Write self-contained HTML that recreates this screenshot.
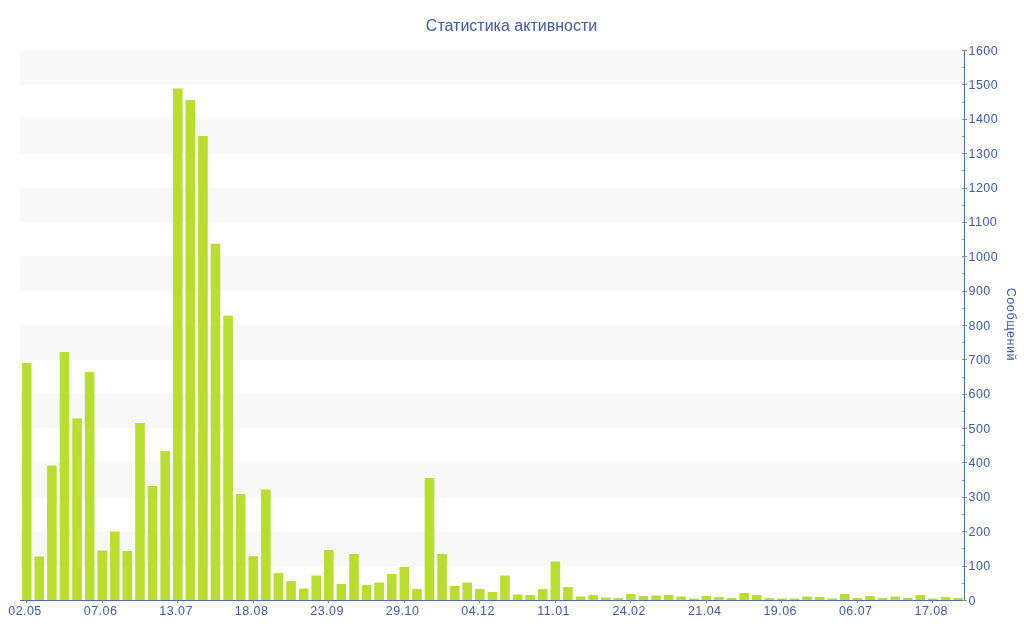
<!DOCTYPE html><html><head><meta charset="utf-8"><style>html,body{margin:0;padding:0;background:#fff;width:1024px;height:640px;overflow:hidden}svg{display:block;transform:translateZ(0);will-change:transform;font-family:"Liberation Sans",sans-serif}</style></head><body>
<svg width="1024" height="640" viewBox="0 0 1024 640">
<rect x="0" y="0" width="1024" height="640" fill="#fff"/>
<rect x="20" y="531.25" width="944" height="34.975" fill="#F8F8F8"/>
<rect x="20" y="462.50" width="944" height="34.975" fill="#F8F8F8"/>
<rect x="20" y="393.75" width="944" height="34.975" fill="#F8F8F8"/>
<rect x="20" y="325.00" width="944" height="34.975" fill="#F8F8F8"/>
<rect x="20" y="256.25" width="944" height="34.975" fill="#F8F8F8"/>
<rect x="20" y="187.50" width="944" height="34.975" fill="#F8F8F8"/>
<rect x="20" y="118.75" width="944" height="34.975" fill="#F8F8F8"/>
<rect x="20" y="50.00" width="944" height="34.975" fill="#F8F8F8"/>
<rect x="21.90" y="363.00" width="9.6" height="237.00" fill="#B9DE30"/>
<rect x="34.49" y="556.50" width="9.6" height="43.50" fill="#B9DE30"/>
<rect x="47.07" y="465.50" width="9.6" height="134.50" fill="#B9DE30"/>
<rect x="59.66" y="352.00" width="9.6" height="248.00" fill="#B9DE30"/>
<rect x="72.25" y="418.50" width="9.6" height="181.50" fill="#B9DE30"/>
<rect x="84.83" y="372.00" width="9.6" height="228.00" fill="#B9DE30"/>
<rect x="97.42" y="550.50" width="9.6" height="49.50" fill="#B9DE30"/>
<rect x="110.01" y="531.50" width="9.6" height="68.50" fill="#B9DE30"/>
<rect x="122.59" y="551.00" width="9.6" height="49.00" fill="#B9DE30"/>
<rect x="135.18" y="423.00" width="9.6" height="177.00" fill="#B9DE30"/>
<rect x="147.77" y="486.00" width="9.6" height="114.00" fill="#B9DE30"/>
<rect x="160.35" y="451.00" width="9.6" height="149.00" fill="#B9DE30"/>
<rect x="172.94" y="88.50" width="9.6" height="511.50" fill="#B9DE30"/>
<rect x="185.53" y="100.00" width="9.6" height="500.00" fill="#B9DE30"/>
<rect x="198.11" y="136.00" width="9.6" height="464.00" fill="#B9DE30"/>
<rect x="210.70" y="243.75" width="9.6" height="356.25" fill="#B9DE30"/>
<rect x="223.29" y="315.60" width="9.6" height="284.40" fill="#B9DE30"/>
<rect x="235.87" y="494.00" width="9.6" height="106.00" fill="#B9DE30"/>
<rect x="248.46" y="556.25" width="9.6" height="43.75" fill="#B9DE30"/>
<rect x="261.05" y="489.50" width="9.6" height="110.50" fill="#B9DE30"/>
<rect x="273.63" y="573.00" width="9.6" height="27.00" fill="#B9DE30"/>
<rect x="286.22" y="581.00" width="9.6" height="19.00" fill="#B9DE30"/>
<rect x="298.81" y="588.50" width="9.6" height="11.50" fill="#B9DE30"/>
<rect x="311.39" y="575.50" width="9.6" height="24.50" fill="#B9DE30"/>
<rect x="323.98" y="550.00" width="9.6" height="50.00" fill="#B9DE30"/>
<rect x="336.57" y="584.00" width="9.6" height="16.00" fill="#B9DE30"/>
<rect x="349.15" y="554.00" width="9.6" height="46.00" fill="#B9DE30"/>
<rect x="361.74" y="585.00" width="9.6" height="15.00" fill="#B9DE30"/>
<rect x="374.33" y="582.50" width="9.6" height="17.50" fill="#B9DE30"/>
<rect x="386.91" y="574.00" width="9.6" height="26.00" fill="#B9DE30"/>
<rect x="399.50" y="567.00" width="9.6" height="33.00" fill="#B9DE30"/>
<rect x="412.09" y="589.00" width="9.6" height="11.00" fill="#B9DE30"/>
<rect x="424.67" y="478.00" width="9.6" height="122.00" fill="#B9DE30"/>
<rect x="437.26" y="554.00" width="9.6" height="46.00" fill="#B9DE30"/>
<rect x="449.85" y="586.00" width="9.6" height="14.00" fill="#B9DE30"/>
<rect x="462.43" y="582.50" width="9.6" height="17.50" fill="#B9DE30"/>
<rect x="475.02" y="589.00" width="9.6" height="11.00" fill="#B9DE30"/>
<rect x="487.61" y="592.00" width="9.6" height="8.00" fill="#B9DE30"/>
<rect x="500.19" y="575.50" width="9.6" height="24.50" fill="#B9DE30"/>
<rect x="512.78" y="594.50" width="9.6" height="5.50" fill="#B9DE30"/>
<rect x="525.37" y="595.00" width="9.6" height="5.00" fill="#B9DE30"/>
<rect x="537.95" y="589.00" width="9.6" height="11.00" fill="#B9DE30"/>
<rect x="550.54" y="561.50" width="9.6" height="38.50" fill="#B9DE30"/>
<rect x="563.13" y="587.00" width="9.6" height="13.00" fill="#B9DE30"/>
<rect x="575.71" y="596.50" width="9.6" height="3.50" fill="#B9DE30"/>
<rect x="588.30" y="595.00" width="9.6" height="5.00" fill="#B9DE30"/>
<rect x="600.89" y="597.50" width="9.6" height="2.50" fill="#B9DE30"/>
<rect x="613.47" y="598.00" width="9.6" height="2.00" fill="#B9DE30"/>
<rect x="626.06" y="594.00" width="9.6" height="6.00" fill="#B9DE30"/>
<rect x="638.65" y="596.00" width="9.6" height="4.00" fill="#B9DE30"/>
<rect x="651.23" y="595.50" width="9.6" height="4.50" fill="#B9DE30"/>
<rect x="663.82" y="595.00" width="9.6" height="5.00" fill="#B9DE30"/>
<rect x="676.41" y="596.50" width="9.6" height="3.50" fill="#B9DE30"/>
<rect x="688.99" y="598.50" width="9.6" height="1.50" fill="#B9DE30"/>
<rect x="701.58" y="596.00" width="9.6" height="4.00" fill="#B9DE30"/>
<rect x="714.17" y="597.00" width="9.6" height="3.00" fill="#B9DE30"/>
<rect x="726.75" y="598.00" width="9.6" height="2.00" fill="#B9DE30"/>
<rect x="739.34" y="593.00" width="9.6" height="7.00" fill="#B9DE30"/>
<rect x="751.93" y="595.00" width="9.6" height="5.00" fill="#B9DE30"/>
<rect x="764.51" y="598.00" width="9.6" height="2.00" fill="#B9DE30"/>
<rect x="777.10" y="598.50" width="9.6" height="1.50" fill="#B9DE30"/>
<rect x="789.69" y="598.50" width="9.6" height="1.50" fill="#B9DE30"/>
<rect x="802.27" y="596.50" width="9.6" height="3.50" fill="#B9DE30"/>
<rect x="814.86" y="597.00" width="9.6" height="3.00" fill="#B9DE30"/>
<rect x="827.45" y="598.50" width="9.6" height="1.50" fill="#B9DE30"/>
<rect x="840.03" y="594.00" width="9.6" height="6.00" fill="#B9DE30"/>
<rect x="852.62" y="598.00" width="9.6" height="2.00" fill="#B9DE30"/>
<rect x="865.21" y="596.00" width="9.6" height="4.00" fill="#B9DE30"/>
<rect x="877.79" y="598.00" width="9.6" height="2.00" fill="#B9DE30"/>
<rect x="890.38" y="596.50" width="9.6" height="3.50" fill="#B9DE30"/>
<rect x="902.97" y="598.00" width="9.6" height="2.00" fill="#B9DE30"/>
<rect x="915.55" y="595.00" width="9.6" height="5.00" fill="#B9DE30"/>
<rect x="928.14" y="598.50" width="9.6" height="1.50" fill="#B9DE30"/>
<rect x="940.73" y="597.00" width="9.6" height="3.00" fill="#B9DE30"/>
<rect x="953.31" y="598.00" width="9.6" height="2.00" fill="#B9DE30"/>
<rect x="20" y="600" width="945" height="1" fill="#4F68B0"/>
<rect x="964" y="50" width="1" height="551" fill="#4F68B0"/>
<rect x="962" y="600.00" width="5" height="1" fill="#888"/>
<rect x="962" y="583.00" width="2" height="1" fill="#999"/>
<rect x="962" y="566.00" width="5" height="1" fill="#888"/>
<rect x="962" y="548.00" width="2" height="1" fill="#999"/>
<rect x="962" y="531.00" width="5" height="1" fill="#888"/>
<rect x="962" y="514.00" width="2" height="1" fill="#999"/>
<rect x="962" y="497.00" width="5" height="1" fill="#888"/>
<rect x="962" y="480.00" width="2" height="1" fill="#999"/>
<rect x="962" y="462.00" width="5" height="1" fill="#888"/>
<rect x="962" y="445.00" width="2" height="1" fill="#999"/>
<rect x="962" y="428.00" width="5" height="1" fill="#888"/>
<rect x="962" y="411.00" width="2" height="1" fill="#999"/>
<rect x="962" y="394.00" width="5" height="1" fill="#888"/>
<rect x="962" y="377.00" width="2" height="1" fill="#999"/>
<rect x="962" y="359.00" width="5" height="1" fill="#888"/>
<rect x="962" y="342.00" width="2" height="1" fill="#999"/>
<rect x="962" y="325.00" width="5" height="1" fill="#888"/>
<rect x="962" y="308.00" width="2" height="1" fill="#999"/>
<rect x="962" y="291.00" width="5" height="1" fill="#888"/>
<rect x="962" y="273.00" width="2" height="1" fill="#999"/>
<rect x="962" y="256.00" width="5" height="1" fill="#888"/>
<rect x="962" y="239.00" width="2" height="1" fill="#999"/>
<rect x="962" y="222.00" width="5" height="1" fill="#888"/>
<rect x="962" y="205.00" width="2" height="1" fill="#999"/>
<rect x="962" y="188.00" width="5" height="1" fill="#888"/>
<rect x="962" y="170.00" width="2" height="1" fill="#999"/>
<rect x="962" y="153.00" width="5" height="1" fill="#888"/>
<rect x="962" y="136.00" width="2" height="1" fill="#999"/>
<rect x="962" y="119.00" width="5" height="1" fill="#888"/>
<rect x="962" y="102.00" width="2" height="1" fill="#999"/>
<rect x="962" y="84.00" width="5" height="1" fill="#888"/>
<rect x="962" y="67.00" width="2" height="1" fill="#999"/>
<rect x="962" y="50.00" width="5" height="1" fill="#888"/>
<rect x="26" y="600" width="1" height="3" fill="#808080"/>
<text x="25.01" y="615" font-size="12.5" letter-spacing="0.45" fill="#3E5AA0" text-anchor="middle">02.05</text>
<rect x="102" y="600" width="1" height="3" fill="#808080"/>
<text x="100.53" y="615" font-size="12.5" letter-spacing="0.45" fill="#3E5AA0" text-anchor="middle">07.06</text>
<rect x="177" y="600" width="1" height="3" fill="#808080"/>
<text x="176.05" y="615" font-size="12.5" letter-spacing="0.45" fill="#3E5AA0" text-anchor="middle">13.07</text>
<rect x="253" y="600" width="1" height="3" fill="#808080"/>
<text x="251.57" y="615" font-size="12.5" letter-spacing="0.45" fill="#3E5AA0" text-anchor="middle">18.08</text>
<rect x="328" y="600" width="1" height="3" fill="#808080"/>
<text x="327.09" y="615" font-size="12.5" letter-spacing="0.45" fill="#3E5AA0" text-anchor="middle">23.09</text>
<rect x="404" y="600" width="1" height="3" fill="#808080"/>
<text x="402.61" y="615" font-size="12.5" letter-spacing="0.45" fill="#3E5AA0" text-anchor="middle">29.10</text>
<rect x="479" y="600" width="1" height="3" fill="#808080"/>
<text x="478.13" y="615" font-size="12.5" letter-spacing="0.45" fill="#3E5AA0" text-anchor="middle">04.12</text>
<rect x="555" y="600" width="1" height="3" fill="#808080"/>
<text x="553.65" y="615" font-size="12.5" letter-spacing="0.45" fill="#3E5AA0" text-anchor="middle">11.01</text>
<rect x="630" y="600" width="1" height="3" fill="#808080"/>
<text x="629.17" y="615" font-size="12.5" letter-spacing="0.45" fill="#3E5AA0" text-anchor="middle">24.02</text>
<rect x="706" y="600" width="1" height="3" fill="#808080"/>
<text x="704.69" y="615" font-size="12.5" letter-spacing="0.45" fill="#3E5AA0" text-anchor="middle">21.04</text>
<rect x="781" y="600" width="1" height="3" fill="#808080"/>
<text x="780.21" y="615" font-size="12.5" letter-spacing="0.45" fill="#3E5AA0" text-anchor="middle">19.06</text>
<rect x="857" y="600" width="1" height="3" fill="#808080"/>
<text x="855.73" y="615" font-size="12.5" letter-spacing="0.45" fill="#3E5AA0" text-anchor="middle">06.07</text>
<rect x="932" y="600" width="1" height="3" fill="#808080"/>
<text x="931.25" y="615" font-size="12.5" letter-spacing="0.45" fill="#3E5AA0" text-anchor="middle">17.08</text>
<text x="968.5" y="605" font-size="12.5" letter-spacing="0.45" fill="#3E5AA0">0</text>
<text x="968.5" y="570" font-size="12.5" letter-spacing="0.45" fill="#3E5AA0">100</text>
<text x="968.5" y="536" font-size="12.5" letter-spacing="0.45" fill="#3E5AA0">200</text>
<text x="968.5" y="501" font-size="12.5" letter-spacing="0.45" fill="#3E5AA0">300</text>
<text x="968.5" y="467" font-size="12.5" letter-spacing="0.45" fill="#3E5AA0">400</text>
<text x="968.5" y="433" font-size="12.5" letter-spacing="0.45" fill="#3E5AA0">500</text>
<text x="968.5" y="398" font-size="12.5" letter-spacing="0.45" fill="#3E5AA0">600</text>
<text x="968.5" y="364" font-size="12.5" letter-spacing="0.45" fill="#3E5AA0">700</text>
<text x="968.5" y="330" font-size="12.5" letter-spacing="0.45" fill="#3E5AA0">800</text>
<text x="968.5" y="295" font-size="12.5" letter-spacing="0.45" fill="#3E5AA0">900</text>
<text x="968.5" y="261" font-size="12.5" letter-spacing="0.45" fill="#3E5AA0">1000</text>
<text x="968.5" y="226" font-size="12.5" letter-spacing="0.45" fill="#3E5AA0">1100</text>
<text x="968.5" y="192" font-size="12.5" letter-spacing="0.45" fill="#3E5AA0">1200</text>
<text x="968.5" y="158" font-size="12.5" letter-spacing="0.45" fill="#3E5AA0">1300</text>
<text x="968.5" y="123" font-size="12.5" letter-spacing="0.45" fill="#3E5AA0">1400</text>
<text x="968.5" y="89" font-size="12.5" letter-spacing="0.45" fill="#3E5AA0">1500</text>
<text x="968.5" y="55" font-size="12.5" letter-spacing="0.45" fill="#3E5AA0">1600</text>
<text x="511.5" y="30.7" font-size="16" fill="#3E5AA0" text-anchor="middle">Статистика активности</text>
<text transform="translate(1007.4,324.4) rotate(90)" font-size="12.6" letter-spacing="0.55" fill="#3E5AA0" text-anchor="middle">Сообщений</text>
</svg></body></html>
